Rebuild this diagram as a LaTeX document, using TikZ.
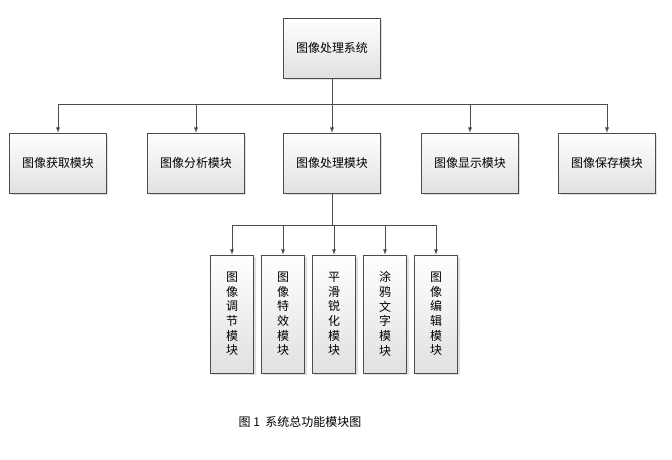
\documentclass[tikz,border=0pt]{standalone}
\usepackage{fontspec}
\newfontfamily\cjk{Noto Sans CJK SC}
\usetikzlibrary{shadows}
\tikzset{
	modbox/.style={draw=black!70, top color=white, bottom color=black!12,
		drop shadow={shadow xshift=1.5pt, shadow yshift=-1.5pt, fill=black!25},
		font=\cjk\fontsize{9}{11}\selectfont, inner sep=0pt},
	widebox/.style={modbox, minimum width=2.56cm, minimum height=1.58cm},
	tallbox/.style={modbox, minimum width=1.14cm, minimum height=3.12cm, align=center},
	arr/.style={draw=black!70, -latex}
}
\begin{document}
\begin{tikzpicture}[x=0.0264cm, y=-0.0264cm]
	\useasboundingbox (0,0) rectangle (672,459);
	% top
	\node[widebox] (sys) at (332,48) {图像处理系统};
	% second row
	\node[widebox] (get) at (58,163) {图像获取模块};
	\node[widebox] (ana) at (196,163) {图像分析模块};
	\node[widebox] (pro) at (332,163) {图像处理模块};
	\node[widebox] (dis) at (470,163) {图像显示模块};
	\node[widebox] (sav) at (607,163) {图像保存模块};
	% third row
	\node[tallbox] (adj) at (232,314) {图\\像\\调\\节\\模\\块};
	\node[tallbox] (eff) at (283,314) {图\\像\\特\\效\\模\\块};
	\node[tallbox] (smo) at (334,314) {平\\滑\\锐\\化\\模\\块};
	\node[tallbox] (gra) at (385,314) {涂\\鸦\\文\\字\\模\\块};
	\node[tallbox] (edi) at (436,314) {图\\像\\编\\辑\\模\\块};
	% connectors
	\coordinate (bus) at (332,104);
	\draw[draw=black!70] (sys.south) -- (bus);
	\foreach \m in {get,ana,pro,dis,sav}
		\draw[arr] (bus) -| (\m.north);
	\coordinate (bus2) at (332,225);
	\draw[draw=black!70] (pro.south) -- (bus2);
	\foreach \m in {adj,eff,smo,gra,edi}
		\draw[arr] (bus2) -| (\m.north);
	% caption
	\node[font=\cjk\fontsize{9}{11}\selectfont] (cap) at (300,422) {图 1\ \ 系统总功能模块图};
\end{tikzpicture}
\end{document}
